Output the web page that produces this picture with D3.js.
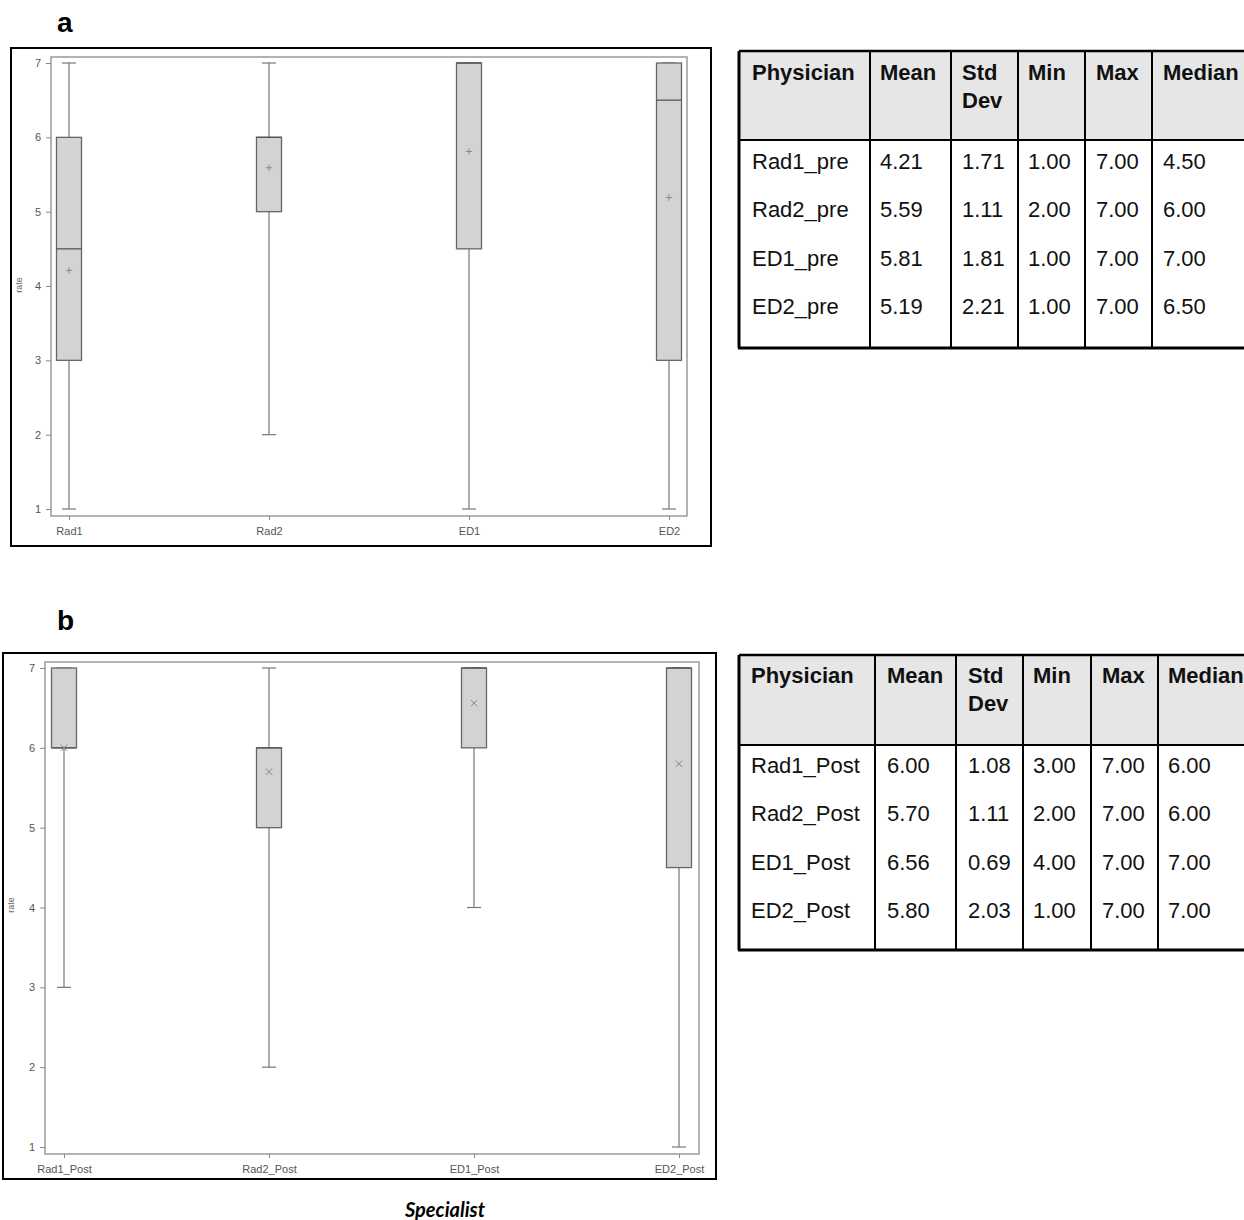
<!DOCTYPE html>
<html><head><meta charset="utf-8">
<script src="https://cdn.jsdelivr.net/npm/d3@7"></script>
<style>body{margin:0;background:#fff}svg{display:block}</style>
</head><body>
<script>
// ---------- DATA ----------
const catsA = ["Rad1","Rad2","ED1","ED2"];
const minA = [1,2,1,1];
const q1A = [3,5,4.5,3];
const medA = [4.5,6,7,6.5];
const q3A = [6,6,7,7];
const maxA = [7,7,7,7];
const meanA = [4.21,5.59,5.81,5.19];

const catsB = ["Rad1_Post","Rad2_Post","ED1_Post","ED2_Post"];
const minB = [3,2,4,1];
const q1B = [6,5,6,4.5];
const medB = [6,6,7,7];
const q3B = [7,6,7,7];
const maxB = [7,7,7,7];
const meanB = [6.00,5.70,6.56,5.80];

const yTicks = [1,2,3,4,5,6,7];

const tableHeader = ["Physician","Mean","Std|Dev","Min","Max","Median"];
const rowNamesA = ["Rad1_pre","Rad2_pre","ED1_pre","ED2_pre"];
const tMeanA = ["4.21","5.59","5.81","5.19"];
const tSdA = ["1.71","1.11","1.81","2.21"];
const tMinA = ["1.00","2.00","1.00","1.00"];
const tMaxA = ["7.00","7.00","7.00","7.00"];
const tMedA = ["4.50","6.00","7.00","6.50"];
const rowNamesB = ["Rad1_Post","Rad2_Post","ED1_Post","ED2_Post"];
const tMeanB = ["6.00","5.70","6.56","5.80"];
const tSdB = ["1.08","1.11","0.69","2.03"];
const tMinB = ["3.00","2.00","4.00","1.00"];
const tMaxB = ["7.00","7.00","7.00","7.00"];
const tMedB = ["6.00","6.00","7.00","7.00"];

// ---------- DRAW ----------
const svg = d3.select("body").append("svg").attr("width",1244).attr("height",1220);
const F = "'Liberation Sans', Arial, sans-serif";

function boxPanel(cfg){
  const g = svg.append("g");
  g.append("rect").attr("x",cfg.outer[0]).attr("y",cfg.outer[1])
    .attr("width",cfg.outer[2]-cfg.outer[0]).attr("height",cfg.outer[3]-cfg.outer[1])
    .attr("fill","#fff").attr("stroke","#000").attr("stroke-width",2);
  const x = d3.scalePoint().domain(cfg.cats).range(cfg.xr);
  const y = d3.scaleLinear().domain([1,7]).range(cfg.yr);
  g.append("rect").attr("x",cfg.plot[0]).attr("y",cfg.plot[1])
    .attr("width",cfg.plot[2]-cfg.plot[0]).attr("height",cfg.plot[3]-cfg.plot[1])
    .attr("fill","none").attr("stroke","#9a9a9a").attr("stroke-width",1.5);
  const ya = g.append("g").attr("transform",`translate(${cfg.plot[0]},0)`)
    .call(d3.axisLeft(y).tickValues(yTicks).tickFormat(d3.format("d")).tickSize(5).tickPadding(5));
  ya.select(".domain").remove();
  ya.selectAll("line").attr("stroke","#888");
  ya.selectAll("text").attr("fill","#555").style("font-family",F).style("font-size","11px");
  const xa = g.append("g").attr("transform",`translate(0,${cfg.plot[3]})`)
    .call(d3.axisBottom(x).tickSize(4).tickPadding(7));
  xa.select(".domain").remove();
  xa.selectAll("line").attr("stroke","#888");
  xa.selectAll("text").attr("fill","#555").style("font-family",F).style("font-size","11px");
  g.append("text").attr("transform",`translate(${cfg.ylab[0]},${cfg.ylab[1]}) rotate(-90)`)
    .attr("text-anchor","middle").attr("fill","#666").style("font-family",F).style("font-size","9px").text("rate");
  const bw = 25, cw = 14;
  cfg.cats.forEach((c,i)=>{
    const cx = x(c);
    g.append("line").attr("x1",cx).attr("x2",cx).attr("y1",y(cfg.max[i])).attr("y2",y(cfg.q3[i])).attr("stroke","#777").attr("stroke-width",1.2);
    g.append("line").attr("x1",cx).attr("x2",cx).attr("y1",y(cfg.q1[i])).attr("y2",y(cfg.min[i])).attr("stroke","#777").attr("stroke-width",1.2);
    [cfg.max[i],cfg.min[i]].forEach(v=>{
      g.append("line").attr("x1",cx-cw/2).attr("x2",cx+cw/2).attr("y1",y(v)).attr("y2",y(v)).attr("stroke","#777").attr("stroke-width",1.2);
    });
    g.append("rect").attr("x",cx-bw/2).attr("y",y(cfg.q3[i])).attr("width",bw)
      .attr("height",y(cfg.q1[i])-y(cfg.q3[i])).attr("fill","#d3d3d3").attr("stroke","#666").attr("stroke-width",1.3);
    g.append("line").attr("x1",cx-bw/2).attr("x2",cx+bw/2).attr("y1",y(cfg.med[i])).attr("y2",y(cfg.med[i])).attr("stroke","#555").attr("stroke-width",1.3);
    const my = y(cfg.mean[i]), s = 3.2;
    if(cfg.marker==="plus"){
      g.append("path").attr("d",`M${cx-s},${my}H${cx+s}M${cx},${my-s}V${my+s}`).attr("stroke","#888").attr("stroke-width",1);
    } else {
      g.append("path").attr("d",`M${cx-s},${my-s}L${cx+s},${my+s}M${cx-s},${my+s}L${cx+s},${my-s}`).attr("stroke","#888").attr("stroke-width",1);
    }
  });
}

boxPanel({cats:catsA,min:minA,q1:q1A,med:medA,q3:q3A,max:maxA,mean:meanA,
  outer:[11,48,711,546], plot:[51,57,687,516], xr:[69,669], yr:[509,63], ylab:[22,285], marker:"plus"});
boxPanel({cats:catsB,min:minB,q1:q1B,med:medB,q3:q3B,max:maxB,mean:meanB,
  outer:[3,653,716,1179], plot:[45,662,699,1154], xr:[64,679], yr:[1147,668], ylab:[14,905], marker:"x"});

svg.append("text").attr("x",57).attr("y",32).style("font-family",F).style("font-weight","bold").style("font-size","28px").text("a");
svg.append("text").attr("x",57).attr("y",630).style("font-family",F).style("font-weight","bold").style("font-size","28px").text("b");

function table(cfg){
  const g = svg.append("g");
  const cols = cfg.cols, right = 1300;
  g.append("rect").attr("x",cols[0]).attr("y",cfg.top).attr("width",right-cols[0]).attr("height",cfg.hb-cfg.top).attr("fill","#e6e6e6");
  tableHeader.forEach((h,j)=>{
    h.split("|").forEach((p,k)=>{
      g.append("text").attr("x",cols[j]+cfg.pad[j]).attr("y",cfg.hbase+k*27.5)
        .style("font-family",F).style("font-weight","bold").style("font-size","22px").attr("fill","#111").text(p);
    });
  });
  const colsData = [cfg.names,cfg.mean,cfg.sd,cfg.min,cfg.max,cfg.med];
  cfg.names.forEach((n,i)=>{
    colsData.forEach((arr,j)=>{
      g.append("text").attr("x",cols[j]+cfg.pad[j]).attr("y",cfg.rbase+i*cfg.rstep)
        .style("font-family",F).style("font-size","22px").attr("fill","#111").text(arr[i]);
    });
  });
  g.append("line").attr("x1",cols[0]).attr("x2",right).attr("y1",cfg.top).attr("y2",cfg.top).attr("stroke","#000").attr("stroke-width",2.5);
  g.append("line").attr("x1",cols[0]).attr("x2",right).attr("y1",cfg.hb).attr("y2",cfg.hb).attr("stroke","#000").attr("stroke-width",2);
  g.append("line").attr("x1",cols[0]-1).attr("x2",right).attr("y1",cfg.bottom).attr("y2",cfg.bottom).attr("stroke","#000").attr("stroke-width",3);
  cols.forEach((c,j)=>{
    g.append("line").attr("x1",c).attr("x2",c).attr("y1",cfg.top).attr("y2",cfg.bottom)
      .attr("stroke","#000").attr("stroke-width",j===0?3:2);
  });
}
table({cols:[739,870,951,1018,1085,1152], top:51, hb:140, bottom:348, hbase:80, rbase:169, rstep:48.4,
  pad:[13,10,11,10,11,11], names:rowNamesA, mean:tMeanA, sd:tSdA, min:tMinA, max:tMaxA, med:tMedA});
table({cols:[739,875,956,1023,1091,1158], top:655, hb:745, bottom:950, hbase:683, rbase:773, rstep:48.3,
  pad:[12,12,12,10,11,10], names:rowNamesB, mean:tMeanB, sd:tSdB, min:tMinB, max:tMaxB, med:tMedB});

svg.append("text").attr("x",445).attr("y",1217).attr("text-anchor","middle")
  .style("font-family","Lato, 'Open Sans', sans-serif").style("font-weight","bold").style("font-style","italic")
  .style("font-size","20px").attr("fill","#000").text("Specialist");
</script>
</body></html>
